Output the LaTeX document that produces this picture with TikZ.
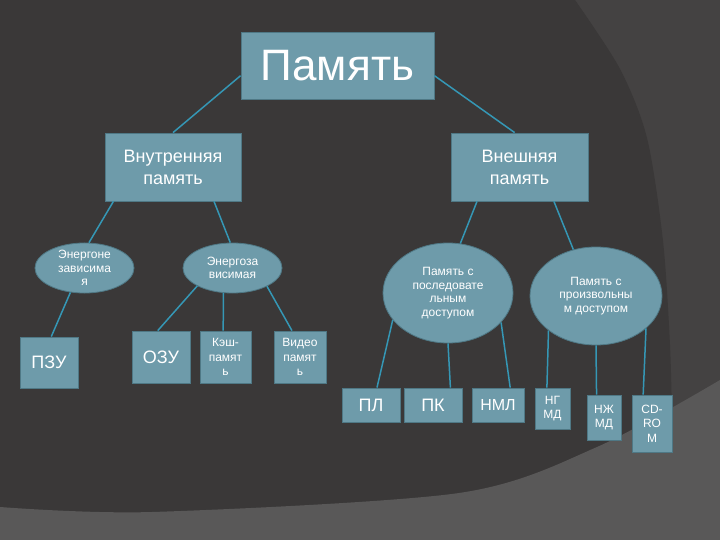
\documentclass[tikz,border=0pt]{standalone}
\usepackage{fontspec}
\setmainfont{Liberation Sans}
\usetikzlibrary{shapes.geometric,shadows}
\definecolor{bgdark}{HTML}{3A3838}
\definecolor{bgband}{HTML}{444242}
\definecolor{bglight}{HTML}{595858}
\definecolor{boxfill}{HTML}{6E9BAA}
\definecolor{boxline}{HTML}{4F7885}
\definecolor{linkcol}{HTML}{3597B5}
\begin{document}
\begin{tikzpicture}[x=1pt,y=-1pt,
  block/.style={rectangle,draw=boxline,fill=boxfill,line width=0.8pt,inner sep=0pt,
    text=white,align=center,drop shadow={shadow xshift=1pt,shadow yshift=-1pt,opacity=0.5}},
  oval/.style={ellipse,draw=boxline,fill=boxfill,line width=0.8pt,inner sep=0pt,
    text=white,align=center,font=\fontsize{12}{13.5}\selectfont},
  bigtext/.style={font=\fontsize{18}{22}\selectfont},
  smalltext/.style={font=\fontsize{12}{14.5}\selectfont},
  link/.style={draw=linkcol,line width=1.5pt}]
\useasboundingbox (0,0) rectangle (720,540);
\fill[bgband] (0,0) rectangle (720,540);
\fill[bgdark] (0,0) -- plot[smooth] coordinates {(575,0) (620,69) (647,138) (663,241) (670,345) (672,420)}
  -- (672,540) -- (0,540) -- cycle;
\fill[bglight] (0,540) -- plot[smooth] coordinates {(0,507) (152,512) (459,493) (597,447) (720,380)}
  -- (720,540) -- cycle;

\node[block,minimum width=193pt,minimum height=67pt,font=\fontsize{44}{44}\selectfont] (mem) at (337.5,65.5) {Память};
\node[block,bigtext,minimum width=136pt,minimum height=68pt] (inner) at (173,167) {Внутренняя\\память};
\node[block,bigtext,minimum width=137pt,minimum height=68pt] (outer) at (519.5,167) {Внешняя\\память};

\node[oval,minimum width=99pt,minimum height=50pt] (ngz) at (84.5,268) {Энергоне\\зависима\\я};
\node[oval,minimum width=99pt,minimum height=50pt] (ez) at (232.5,268) {Энергоза\\висимая};
\node[oval,minimum width=130pt,minimum height=100pt] (psd) at (448,293) {Память с\\последовате\\льным\\доступом};
\node[oval,minimum width=132pt,minimum height=98pt] (ppd) at (596,296) {Память с\\произвольны\\м доступом};

\node[block,bigtext,minimum width=58pt,minimum height=51pt] (pzu) at (49,362.5) {ПЗУ};
\node[block,bigtext,minimum width=58pt,minimum height=52pt] (ozu) at (161,357) {ОЗУ};
\node[block,smalltext,minimum width=51pt,minimum height=52pt] (kesh) at (225.5,357) {Кэш-\\памят\\ь};
\node[block,smalltext,minimum width=52pt,minimum height=52pt] (video) at (300,357) {Видео\\памят\\ь};

\node[block,bigtext,minimum width=58pt,minimum height=34pt] (pl) at (371,405) {ПЛ};
\node[block,bigtext,minimum width=58pt,minimum height=34pt] (pk) at (433,405) {ПК};
\node[block,font=\fontsize{16}{18}\selectfont,minimum width=52pt,minimum height=34pt] (nml) at (498,405) {НМЛ};
\node[block,smalltext,minimum width=35pt,minimum height=41pt] (ngmd) at (552.5,408.5) {НГ\\МД};
\node[block,smalltext,minimum width=34pt,minimum height=45pt] (nzhmd) at (604,417.5) {НЖ\\МД};
\node[block,smalltext,minimum width=40pt,minimum height=57pt] (cd) at (652,423.5) {CD-\\RO\\M};

\draw[link] (mem.186) -- (inner.north);
\draw[link] (mem.-6) -- (outer.98);
\draw[link] (inner.210) -- (ngz.80);
\draw[link] (inner.-40) -- (ez.95);
\draw[link] (ngz.-120) -- (pzu.85);
\draw[link] (ez.207) -- (ozu.97);
\draw[link] (ez.-110) -- (kesh.95);
\draw[link] (ez.-28) -- (video.107);
\draw[link] (outer.219) -- (psd.76);
\draw[link] (outer.-45) -- (ppd.116);
\draw[link] (psd.206) -- (pl.71);
\draw[link] (psd.south) -- (pk.45);
\draw[link] (psd.-29) -- (nml.55);
\draw[link] (ppd.216) -- (ngmd.105);
\draw[link] (ppd.south) -- (nzhmd.108);
\draw[link] (ppd.-33) -- (cd.107);
\end{tikzpicture}
\end{document}
